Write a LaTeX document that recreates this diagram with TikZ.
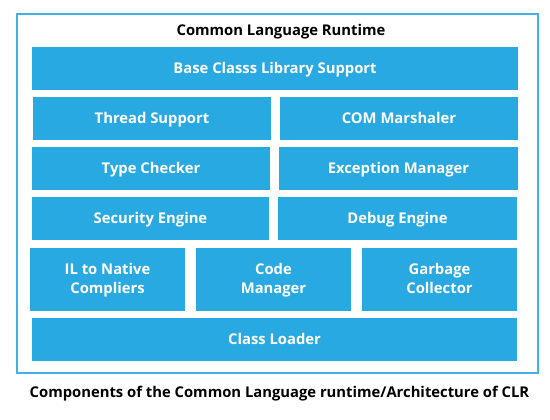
\documentclass[tikz,border=0pt]{standalone}
\usepackage{fontspec}
\setmainfont{Open Sans}
\definecolor{boxblue}{RGB}{41,169,225}
\definecolor{frameblue}{RGB}{66,178,230}
\newcommand\mystrut{\rule[-4.7pt]{0pt}{19pt}}
\begin{document}
\begin{tikzpicture}[x=1pt,y=-1pt,
  blk/.style={fill=boxblue,draw=none,text=white,font=\fontsize{14.8}{19}\selectfont\bfseries,align=center,inner sep=0pt,minimum height=43pt},
  lbl/.style={text=black,font=\fontsize{14.8}{19}\selectfont\bfseries,inner sep=0pt}]
\useasboundingbox (0,0) rectangle (550,420);
\fill[white] (0,0) rectangle (550,420);
\draw[frameblue,line width=1.6pt] (17,14) rectangle (538,373);
\node[lbl] (title) at (281,31) {\mystrut Common Language Runtime};
\node[blk,minimum width=486pt] (base) at (275,68.5) {\mystrut Base Classs Library Support};
\node[blk,minimum width=238pt] (thread) at (152,118.5) {\mystrut Thread Support};
\node[blk,minimum width=238pt] (com) at (399,118.5) {\mystrut COM Marshaler};
\node[blk,minimum width=238pt] (type) at (151,168.5) {\mystrut Type Checker};
\node[blk,minimum width=239pt] (exc) at (398.5,168.5) {\mystrut Exception Manager};
\node[blk,minimum width=237pt] (sec) at (150.5,218.5) {\mystrut Security Engine};
\node[blk,minimum width=239pt] (debug) at (397.5,218.5) {\mystrut Debug Engine};
\node[blk,minimum width=155pt,minimum height=63pt] (il) at (107.5,279.5) {\mystrut IL to Native\\\mystrut Compliers};
\node[blk,minimum width=155pt,minimum height=63pt] (code) at (273.5,279.5) {\mystrut Code\\\mystrut Manager};
\node[blk,minimum width=155pt,minimum height=63pt] (garb) at (439.5,279.5) {\mystrut Garbage\\\mystrut Collector};
\node[blk,minimum width=485pt] (class) at (274.5,339.5) {\mystrut Class Loader};
\node[lbl] (caption) at (279.5,393) {\mystrut Components of the Common Language runtime/Architecture of CLR};
\end{tikzpicture}
\end{document}
